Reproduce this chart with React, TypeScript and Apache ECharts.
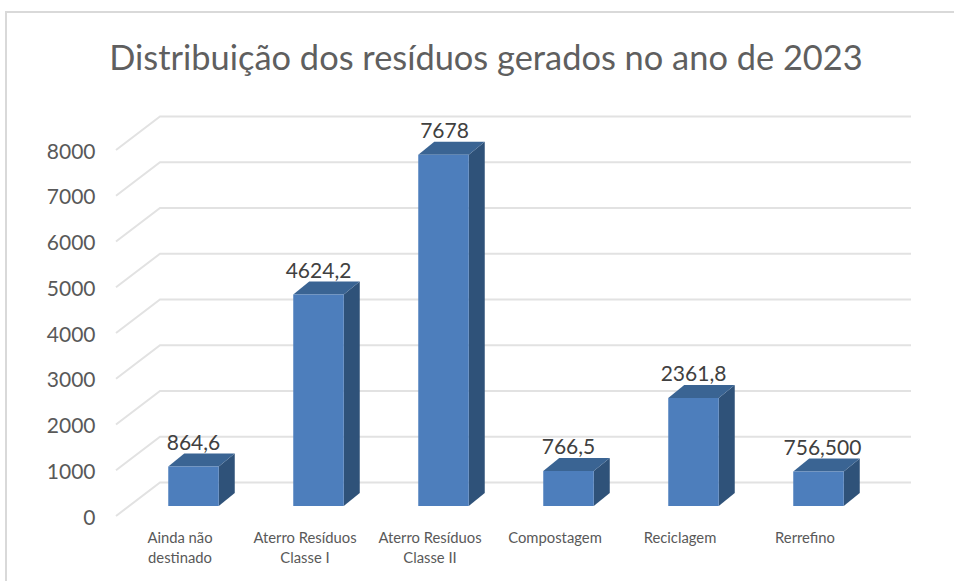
import React, { useEffect, useRef } from "react";
import * as echarts from "echarts";

const categories = [
  "Ainda não\ndestinado",
  "Aterro Resíduos\nClasse I",
  "Aterro Resíduos\nClasse II",
  "Compostagem",
  "Reciclagem",
  "Rerrefino",
];
const values = [864.6, 4624.2, 7678, 766.5, 2361.8, 756.5];
const valueLabels = ["864,6", "4624,2", "7678", "766,5", "2361,8", "756,500"];
const gridValues = [0, 1000, 2000, 3000, 4000, 5000, 6000, 7000, 8000];
const titleText = "Distribuição dos resíduos gerados no ano de 2023";

const FONT = "Lato, Carlito, sans-serif";
const labelNudgeX = [0, 0, 1, 0, 0, 4];

export default function App() {
  const ref = useRef<HTMLDivElement>(null);
  useEffect(() => {
    const chart = echarts.init(ref.current!, null, { renderer: "svg" });
    const GRID_LEFT = 117.5;
    const FLOOR_DX = 44;
    const FLOOR_DY = 33.5;
    const WALL_RIGHT = 911;
    const BAR_SHIFT_X = 13.5;
    const BAR_SHIFT_Y = 10;
    const BAR_W = 50.5;
    const DEPTH_X = 16;
    const DEPTH_Y = 13;
    chart.setOption({
      animation: false,
      backgroundColor: "#fff",
      title: {
        text: titleText,
        left: 481,
        top: 34,
        textAlign: "center",
        textStyle: { fontFamily: FONT, fontSize: 34.4, fontWeight: 400, color: "#5f5f5f" },
      },
      grid: { left: GRID_LEFT, width: 750, top: 150, height: 366 },
      xAxis: {
        type: "category",
        data: categories,
        axisLine: { show: false },
        axisTick: { show: false },
        axisLabel: {
          interval: 0,
          margin: 11,
          fontFamily: FONT,
          fontSize: 14.8,
          lineHeight: 20,
          color: "#595959",
        },
      },
      yAxis: {
        type: "value",
        min: 0,
        max: 8000,
        interval: 1000,
        axisLine: { show: false },
        axisTick: { show: false },
        splitLine: { show: false },
        axisLabel: {
          margin: 22,
          fontFamily: FONT,
          fontSize: 21,
          color: "#595959",
          formatter: (v: number) => String(v),
        },
      },
      graphic: [
        {
          type: "polyline",
          shape: { points: [[6, 581], [6, 12], [954, 12]] },
          style: { fill: "none", stroke: "#d9d9d9", lineWidth: 2 },
          silent: true,
        },
      ],
      series: [
        {
          type: "custom",
          clip: false,
          silent: true,
          z: 1,
          data: gridValues.map((v) => [0, v]),
          renderItem: (_p: any, api: any) => {
            const y = api.coord([0, api.value(1)])[1];
            return {
              type: "polyline",
              shape: {
                points: [
                  [116, y],
                  [116 + FLOOR_DX, y - FLOOR_DY],
                  [WALL_RIGHT, y - FLOOR_DY],
                ],
              },
              style: { fill: "none", stroke: "#e2e2e2", lineWidth: 2 },
            };
          },
        },
        {
          type: "custom",
          clip: false,
          silent: true,
          z: 2,
          data: values.map((v, i) => [i, v]),
          renderItem: (p: any, api: any) => {
            const i = api.value(0);
            const top = api.coord([i, api.value(1)]);
            const base = api.coord([i, 0]);
            const cx = base[0] + BAR_SHIFT_X;
            const x0 = cx - BAR_W / 2;
            const x1 = cx + BAR_W / 2;
            const yb = base[1] - BAR_SHIFT_Y;
            const yt = top[1] - BAR_SHIFT_Y;
            return {
              type: "group",
              children: [
                {
                  type: "polygon",
                  shape: { points: [[x1, yb], [x1 + DEPTH_X, yb - DEPTH_Y], [x1 + DEPTH_X, yt - DEPTH_Y], [x1, yt]] },
                  style: { fill: "#2f5279" },
                },
                {
                  type: "polygon",
                  shape: { points: [[x0, yt], [x0 + DEPTH_X, yt - DEPTH_Y], [x1 + DEPTH_X, yt - DEPTH_Y], [x1, yt]] },
                  style: { fill: "#3a6493" },
                },
                {
                  type: "rect",
                  shape: { x: x0, y: yt, width: BAR_W, height: yb - yt },
                  style: { fill: "#4d7ebc" },
                },
                {
                  type: "text",
                  style: {
                    x: cx + labelNudgeX[p.dataIndex],
                    y: yt - 25,
                    text: valueLabels[p.dataIndex],
                    fontFamily: FONT,
                    fontSize: 21,
                    fill: "#404040",
                    align: "center",
                    verticalAlign: "middle",
                  },
                },
              ],
            };
          },
        },
      ],
    });
    return () => chart.dispose();
  }, []);
  return <div ref={ref} style={{ position: "fixed", left: 0, top: 0, width: 954, height: 581 }} />;
}
